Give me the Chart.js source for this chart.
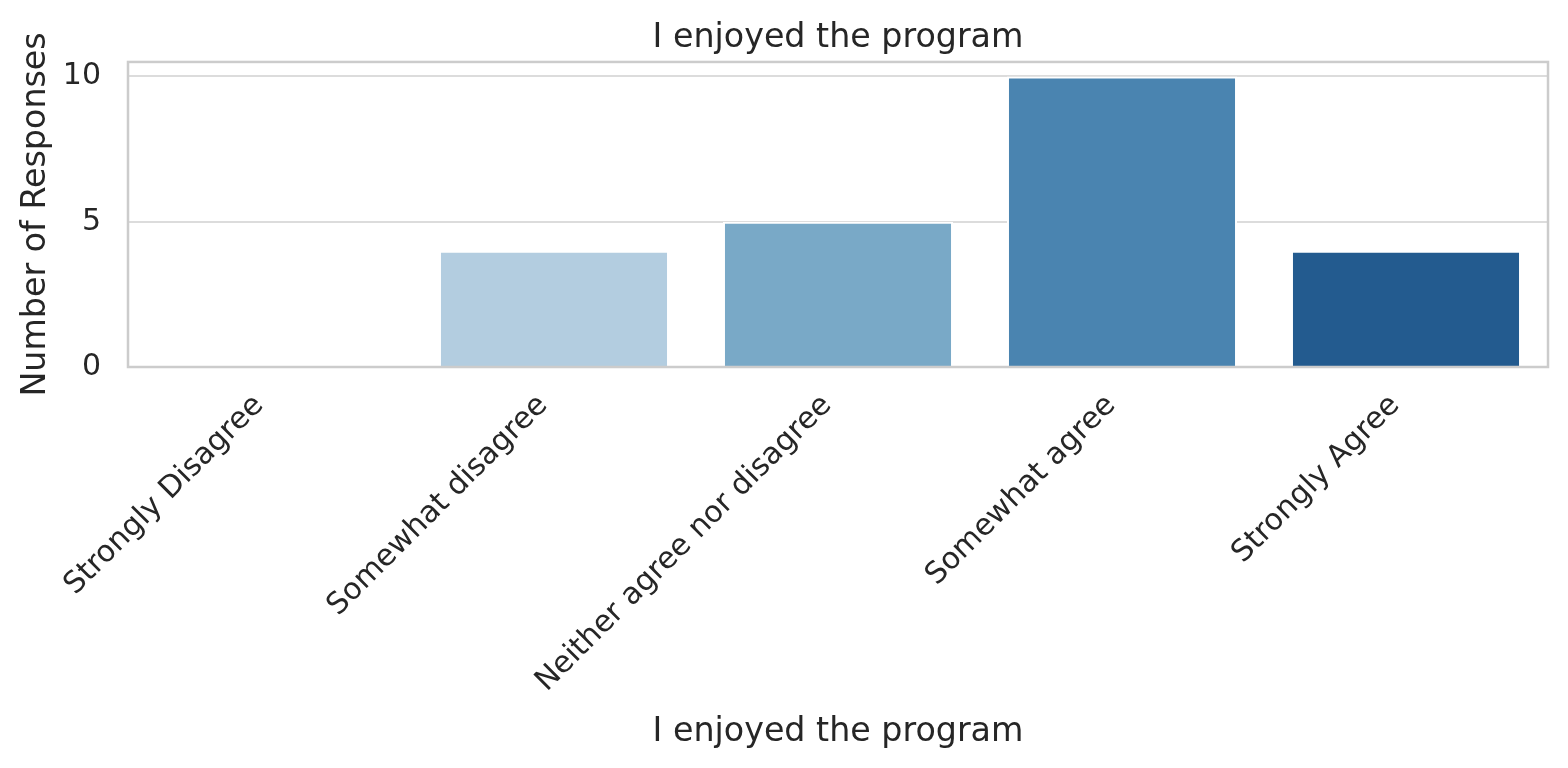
<!DOCTYPE html>
<html lang="en">
<head>
  <meta charset="UTF-8" />
  <title>I enjoyed the program</title>
  <script src="https://cdn.jsdelivr.net/npm/chart.js"></script>
  <style>
    html, body {
      margin: 0;
      padding: 0;
      background: #ffffff;
    }
    .chart-box {
      width: 1568px;
      height: 768px;
    }
  </style>
</head>
<body>
  <div class="chart-box">
    <canvas id="surveyChart"></canvas>
  </div>
  <script>
    const categories = ['Strongly Disagree', 'Somewhat disagree', 'Neither agree nor disagree', 'Somewhat agree', 'Strongly Agree'];
    const responses = [0, 4, 5, 10, 4];
    const barColors = ['#d9e6f0', '#b3cde0', '#79a9c7', '#4a84b0', '#235b8f'];
    const yTicks = [0, 5, 10];
    const question = 'I enjoyed the program';

    const textColor = '#262626';
    Chart.defaults.font.family = "'DejaVu Sans', sans-serif";
    Chart.defaults.color = textColor;

    // draws the light grey frame round the plot area, like the seaborn spines
    const frame = {
      id: 'frame',
      afterDatasetsDraw(chart) {
        const { ctx, chartArea } = chart;
        ctx.save();
        ctx.strokeStyle = '#cccccc';
        ctx.lineWidth = 2.5;
        ctx.strokeRect(chartArea.left, chartArea.top, chartArea.right - chartArea.left, chartArea.bottom - chartArea.top);
        ctx.restore();
      }
    };

    new Chart(document.getElementById('surveyChart'), {
      type: 'bar',
      data: {
        labels: categories,
        datasets: [{
          label: question,
          data: responses,
          backgroundColor: barColors,
          borderColor: '#ffffff',
          borderWidth: 2,
          barPercentage: 0.81,
          categoryPercentage: 1.0
        }]
      },
      options: {
        responsive: true,
        maintainAspectRatio: false,
        devicePixelRatio: 1,
        animation: false,
        layout: { padding: { left: 0, right: 20, top: 0, bottom: 0 } },
        plugins: {
          legend: { display: false },
          tooltip: { enabled: false },
          title: {
            display: true,
            fullSize: false,
            text: question,
            color: textColor,
            font: { size: 33.3, weight: 'normal' },
            padding: { top: 18, bottom: 4 }
          }
        },
        scales: {
          x: {
            grid: { display: false },
            border: { display: false },
            ticks: {
              autoSkip: false,
              minRotation: 45,
              maxRotation: 45,
              padding: 13,
              labelOffset: -11,
              color: textColor,
              font: { size: 30 }
            },
            title: {
              display: true,
              text: question,
              color: textColor,
              font: { size: 33.3 },
              padding: { top: 0, bottom: 16 }
            },
            afterFit(scale) { scale.height = 401; }
          },
          y: {
            min: 0,
            max: 10.5,
            grid: { color: '#dcdcdc', lineWidth: 2, drawTicks: false },
            border: { display: false },
            afterBuildTicks(scale) { scale.ticks = yTicks.map(v => ({ value: v })); },
            ticks: {
              padding: 27,
              color: textColor,
              font: { size: 30 }
            },
            title: {
              display: true,
              text: 'Number of Responses',
              color: textColor,
              font: { size: 33.3 },
              padding: { top: 16, bottom: 0 }
            },
            afterFit(scale) { scale.width = 128; }
          }
        }
      },
      plugins: [frame]
    });
  </script>
</body>
</html>
